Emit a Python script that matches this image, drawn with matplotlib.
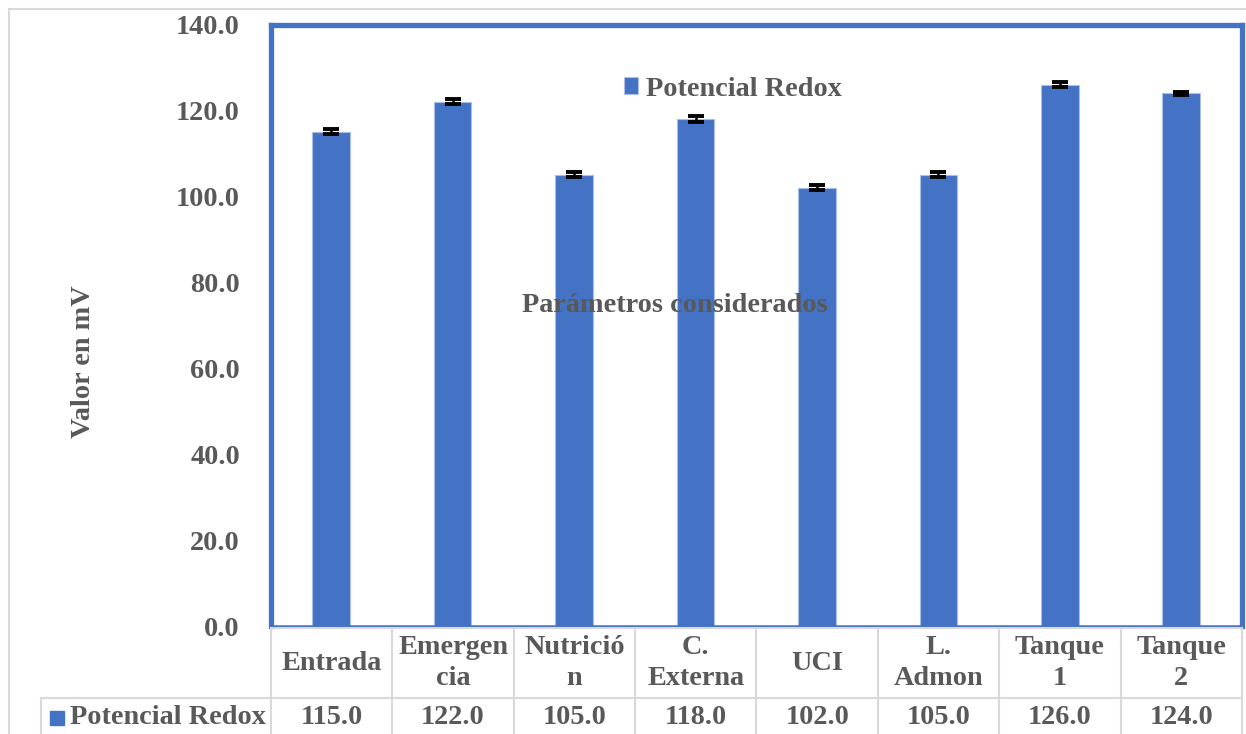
import matplotlib.pyplot as plt
from matplotlib.patches import Rectangle
from matplotlib.lines import Line2D
import numpy as np

# data
categorias = ["Entrada", "Emergen\ncia", "Nutrició\nn", "C.\nExterna", "UCI",
              "L.\nAdmon", "Tanque\n1", "Tanque\n2"]
redox = [115.0, 122.0, 105.0, 118.0, 102.0, 105.0, 126.0, 124.0]
errores = [0.6, 0.6, 0.6, 0.6, 0.6, 0.6, 0.6, 0.4]
serie = "Potencial Redox"
yticks = [0, 20, 40, 60, 80, 100, 120, 140]

W, H = 1246, 734
AZUL = "#4472C4"
GRIS = "#595959"
LINEA = "#D9D9D9"
FONT = dict(family="Liberation Serif", weight="bold", size=20.3, color=GRIS)


def fx(x):
    return x / W


def fy(y):
    return 1 - y / H


fig = plt.figure(figsize=(W / 100, H / 100), dpi=100)

# outer chart frame
fig.patches.append(Rectangle((fx(9), fy(760)), fx(1300 - 9), (760 - 9) / H,
                             transform=fig.transFigure, fill=False,
                             edgecolor=LINEA, linewidth=1.5))

left, right, top, bottom = 270.5, 1242, 24.5, 626
ax = fig.add_axes([fx(left), fy(bottom), (right - left) / W, (bottom - top) / H])

x = np.arange(len(categorias))
ax.bar(x, redox, width=0.31, color=AZUL, edgecolor="#A9BFE8",
       linewidth=0.8, label=serie, zorder=2)
ax.errorbar(x, redox, yerr=errores, fmt="none", ecolor="black",
            elinewidth=1.8, capsize=6, capthick=2.8, zorder=3)

ax.set_xlim(-0.5, len(categorias) - 0.5)
ax.set_ylim(0, 140)
ax.set_yticks(yticks)
ax.set_yticklabels([f"{v:.1f}" for v in yticks], **FONT)
ax.set_xticks([])
ax.tick_params(axis="y", length=0, pad=22)
for s in ["left", "top", "right"]:
    ax.spines[s].set_color(AZUL)
    ax.spines[s].set_linewidth(3.8)
ax.spines["bottom"].set_color(AZUL)
ax.spines["bottom"].set_linewidth(1.8)

leg = ax.legend(loc="center", bbox_to_anchor=(fx(733), fy(89)),
                bbox_transform=fig.transFigure, frameon=False,
                handlelength=0.5, handleheight=0.5, handletextpad=0.3,
                prop=dict(family="Liberation Serif", weight="bold", size=20.3))
for t in leg.get_texts():
    t.set_color(GRIS)

fig.text(fx(675), fy(305), "Parámetros considerados", ha="center",
         va="center", zorder=5, **FONT)

fig.text(fx(83), fy(362), "Valor en mV", rotation=90, ha="center",
         va="center", **FONT)

# data table under the chart
col0 = 271
colw = (1242 - col0) / len(categorias)
row1, row2, row3 = 628, 697.5, 800


def hline(x0, x1, y):
    fig.lines.append(Line2D([fx(x0), fx(x1)], [fy(y), fy(y)],
                            transform=fig.transFigure, color=LINEA, lw=1.5))


def vline(x, y0, y1):
    fig.lines.append(Line2D([fx(x), fx(x)], [fy(y0), fy(y1)],
                            transform=fig.transFigure, color=LINEA, lw=1.5))


hline(col0, 1242, row1)
hline(40.5, 1242, row2)
for i in range(len(categorias) + 1):
    vline(col0 + i * colw, row1, row3)
vline(40.5, row2, row3)

for i, (c, v) in enumerate(zip(categorias, redox)):
    cx = col0 + (i + 0.5) * colw
    fig.text(fx(cx), fy(663), c, ha="center", va="center",
             linespacing=1.3, **FONT)
    fig.text(fx(cx), fy(718), f"{v:.1f}", ha="center", va="center", **FONT)

fig.patches.append(Rectangle((fx(50), fy(725)), 14 / W, 14 / H,
                             transform=fig.transFigure, color=AZUL))
fig.text(fx(70), fy(718), serie, ha="left", va="center", **FONT)

fig.savefig("out.png", dpi=100)
